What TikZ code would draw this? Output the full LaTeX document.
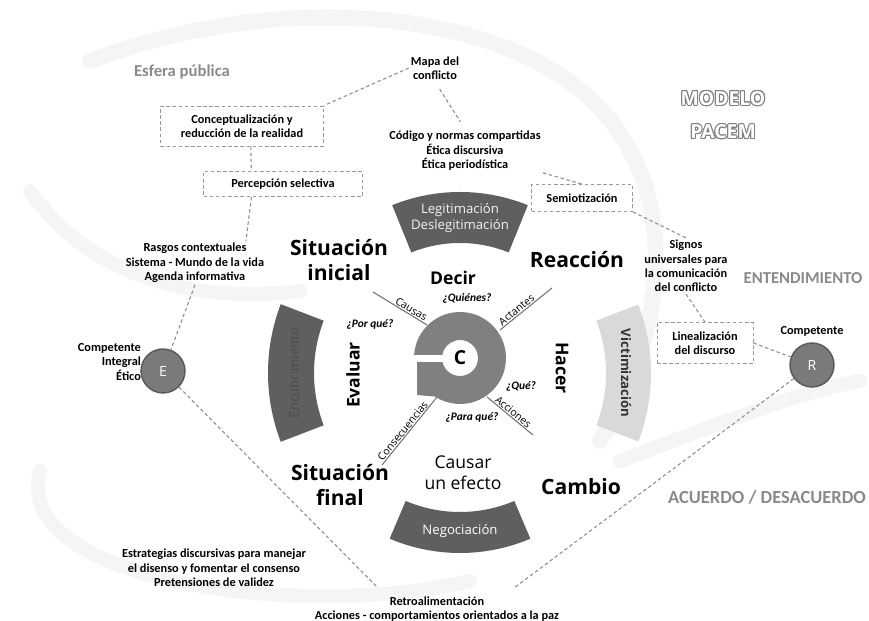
\documentclass[tikz,border=0pt]{standalone}
\usepackage{fontspec}
\setmainfont{Carlito}
\newfontfamily\opensans{Open Sans}
\usetikzlibrary{positioning}
\definecolor{secdark}{HTML}{5F5F5F}
\definecolor{seclight}{HTML}{D9D9D9}
\definecolor{ringgray}{HTML}{808080}
\definecolor{txtgray}{HTML}{8A8A8A}
\definecolor{swirl}{HTML}{F5F5F5}
\tikzset{
  note/.style={font=\bfseries\fontsize{7}{8.2}\selectfont,align=center,inner sep=1pt},
  dbox/.style={note,draw=black!40,dash pattern=on 2pt off 1.5pt,line width=.5pt,inner sep=3pt},
  link/.style={draw=black!45,dash pattern=on 2pt off 1.5pt,line width=.6pt},
  stage/.style={font=\opensans\bfseries\fontsize{12}{14}\selectfont,align=center,inner sep=1pt},
  verb/.style={font=\opensans\bfseries\fontsize{10}{12}\selectfont,align=center,inner sep=1pt},
  ask/.style={font=\bfseries\itshape\fontsize{6.5}{8}\selectfont,inner sep=1pt},
  spoke/.style={draw=black!55,line width=.6pt},
  spoketxt/.style={font=\opensans\fontsize{6}{7}\selectfont,above,sloped,inner sep=.5pt},
  band/.style={font=\opensans\fontsize{7.5}{9.5}\selectfont,align=center,inner sep=0pt},
  zone/.style={font=\bfseries\fontsize{9.5}{11}\selectfont,text=txtgray},
  agent/.style={circle,fill=black!52,draw=black!65,line width=.8pt,minimum size=0.88cm,inner sep=0pt,text=white,font=\opensans\fontsize{8}{10}\selectfont},
  modelo/.style={font=\opensans\bfseries\fontsize{11}{19}\selectfont,align=center}
}
\begin{document}
\begin{tikzpicture}[x=0.02cm,y=0.02cm]
\useasboundingbox (0,0) rectangle (869,621);
\draw[swirl,line width=9pt,line cap=round] (90,560) .. controls (300,640) and (560,610) .. (630,470) .. controls (680,380) and (650,260) .. (600,180);
\draw[swirl,line width=8pt,line cap=round] (40,150) .. controls (10,40) and (300,0) .. (470,40);
\draw[swirl,line width=8pt,line cap=round] (30,430) .. controls (100,330) and (220,320) .. (300,330);
\draw[swirl,line width=8pt,line cap=round] (620,160) .. controls (700,190) and (800,230) .. (860,240);
\coordinate (s) at (460,248);
\coordinate (c) at (460,263);
\foreach \a/\b/\ri/\ro/\col in {68/112/130/181/secdark,247/293/139/180/secdark,159/201/146/192/secdark,-21/21/146/191/seclight}
  \fill[\col]([shift={(s)}]\a:\ro)arc[start angle=\a,end angle=\b,radius=\ro]--([shift={(s)}]\b:\ri)arc[start angle=\b,end angle=\a,radius=\ri]--cycle;
\fill[ringgray]([shift={(c)}]176:46)arc[start angle=176,end angle=-123,radius=46]--(417,226)--(417,259)--([shift={(c)}]193:18)arc[start angle=193,end angle=530,radius=18]--cycle;
\node[font=\opensans\bfseries\fontsize{11}{12}\selectfont] (core) at (c) {C};
\node[band,text=black!5] (legit) at ([shift={(s)}]90:155) {Legitimación\\Deslegitimación};
\node[band,text=white] (nego) at ([shift={(s)}]270:158) {Negociación};
\node[band,text=black!70,rotate=90] (encub) at ([shift={(s)}]180:166) {Encubrimiento};
\node[band,text=black!80,rotate=-90,font=\opensans\bfseries\fontsize{7.5}{9.5}\selectfont] (victim) at ([shift={(s)}]0:166) {Victimización};
\draw[spoke](373,329)--node[spoketxt,pos=.66](causas){Causas}(427,296);
\draw[spoke](500,291)--node[spoketxt,pos=.38](actantes){Actantes}(552,333);
\draw[spoke](487,224)--node[spoketxt,pos=.5](acciones){Acciones}(533,186);
\draw[spoke](382,156)--node[spoketxt,pos=.45](consec){Consecuencias}(437,224);
\node[stage] (inicial) at (339,361) {Situación\\inicial};
\node[stage] (reaccion) at (577,361) {Reacción};
\node[stage] (final) at (340,136) {Situación\\final};
\node[stage] (cambio) at (581,134) {Cambio};
\node[verb] (decir) at (453,343) {Decir};
\node[verb,rotate=90] (evaluar) at (353,246) {Evaluar};
\node[verb,rotate=-90] (hacer) at (562,253) {Hacer};
\node[verb,font=\opensans\fontsize{10}{12}\selectfont] (causar) at (463,148) {Causar\\un efecto};
\node[ask] (quienes) at (467,323) {¿Quiénes?};
\node[ask] (porque) at (370,296) {¿Por qué?};
\node[ask] (que) at (521,234) {¿Qué?};
\node[ask] (paraque) at (472,203) {¿Para qué?};
\node[zone] (esfera) at (182,549) {Esfera pública};
\node[zone] (entend) at (803,343) {ENTENDIMIENTO};
\node[zone,font=\bfseries\fontsize{10.5}{12}\selectfont] (acuerdo) at (767,124) {ACUERDO / DESACUERDO};
\foreach \d in {0,30,...,330}
  \node[modelo,text=black!50] (mo\d) at ([shift={(\d:0.6pt)}]723,506) {MODELO\\PACEM};
\node[modelo,text=white] (modelo) at (723,506) {MODELO\\PACEM};
\node[note] (mapa) at (435,553) {Mapa del\\conflicto};
\node[dbox,minimum width=3.26cm,minimum height=0.8cm] (concept) at (242,495) {Conceptualización y\\reducción de la realidad};
\node[dbox,minimum width=3.18cm,minimum height=0.5cm] (percep) at (283,437) {Percepción selectiva};
\node[note] (codigo) at (465,470) {Código y normas compartidas\\Ética discursiva\\Ética periodística};
\node[dbox,minimum width=2.02cm,minimum height=0.54cm] (semio) at (582,423) {Semiotización};
\node[note] (signos) at (686,355) {Signos\\universales para\\la comunicación\\del conflicto};
\node[dbox,minimum width=1.92cm,minimum height=0.82cm] (lineal) at (705,278) {Linealización\\del discurso};
\node[agent] (R) at (812,256) {R};
\node[note,above=2pt of R] (compR) {Competente};
\node[note] (rasgos) at (195,358) {Rasgos contextuales\\Sistema - Mundo de la vida\\Agenda informativa};
\node[agent] (E) at (163,250) {E};
\node[note,align=right,anchor=east] (compE) at (143,259) {Competente\\Integral\\Ético};
\node[note] (estrat) at (214,53) {Estrategias discursivas para manejar\\el disenso y fomentar el consenso\\Pretensiones de validez};
\node[note] (retro) at (437,12) {Retroalimentación\\Acciones - comportamientos orientados a la paz};
\coordinate (fbL) at (378,33);
\coordinate (fbR) at (514,33);
\draw[link] (mapa.west)--(concept.north east);
\draw[link,shorten <=5pt,shorten >=5pt] (mapa.south)--(codigo.north);
\draw[link] ([xshift=5pt]concept.south)--([xshift=-18pt]percep.north);
\draw[link] ([xshift=-18pt]percep.south)--([xshift=29pt]rasgos.north);
\draw[link] (rasgos.south)--(E);
\draw[link] (E)--(fbL);
\draw[link] (R)--(fbR);
\draw[link] (codigo.south east)--(semio.north);
\draw[link] (semio.south east)--(signos.north);
\draw[link] (signos.south)--(lineal.north);
\draw[link] (lineal.east)--(R);
\end{tikzpicture}
\end{document}
